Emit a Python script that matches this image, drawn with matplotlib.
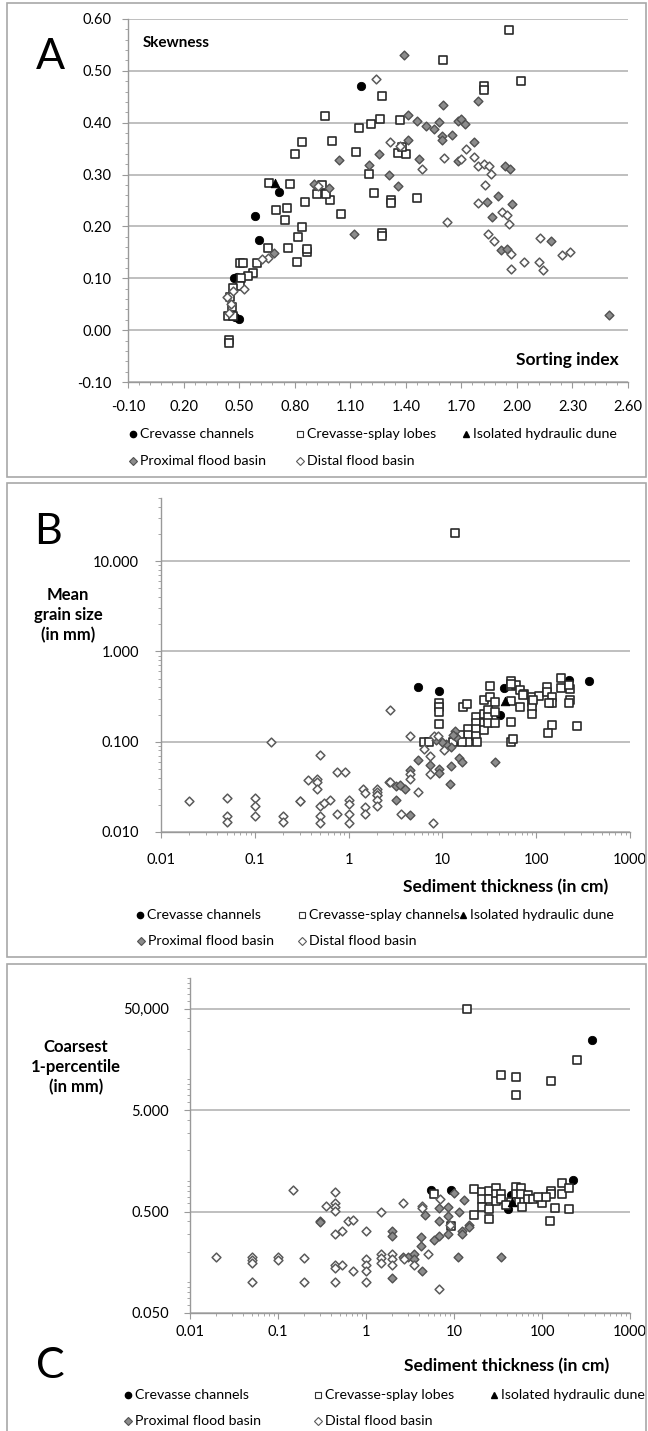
import matplotlib
matplotlib.use("Agg")
import matplotlib.pyplot as plt
from matplotlib.patches import Rectangle
from matplotlib.lines import Line2D
from matplotlib.ticker import FixedLocator, FixedFormatter, LogLocator, NullFormatter

plt.rcParams['font.family'] = ['Lato', 'DejaVu Sans']

W, H = 648, 1431

# =============================================================================
# Data - panel A (skewness vs sorting index)
# =============================================================================
a_chan_x = [1.16, 0.585, 0.61, 0.715, 0.47, 0.49, 0.48, 0.50]
a_chan_y = [0.470, 0.221, 0.174, 0.266, 0.101, 0.102, 0.025, 0.022]

a_lobe_x = [1.96, 1.60, 2.02, 1.82, 1.82, 1.27, 0.965, 1.15, 1.21, 1.26, 1.37, 0.84, 0.80, 1.00,
            1.13, 1.36, 1.40, 1.38, 1.20, 1.23, 1.32, 1.32, 1.46, 1.27, 1.27, 1.05, 0.99, 0.97,
            0.92, 0.95, 0.855, 0.774, 0.66, 0.70, 0.756, 0.747, 0.841, 0.82, 0.765, 0.868, 0.868,
            0.81, 0.657, 0.598, 0.576, 0.55, 0.51, 0.504, 0.52, 0.504, 0.468, 0.45, 0.46, 0.441,
            0.468, 0.445, 0.445]
a_lobe_y = [0.578, 0.520, 0.480, 0.470, 0.464, 0.452, 0.412, 0.389, 0.398, 0.407, 0.405, 0.363,
            0.339, 0.364, 0.343, 0.341, 0.339, 0.354, 0.301, 0.265, 0.250, 0.245, 0.255, 0.188,
            0.182, 0.224, 0.251, 0.263, 0.263, 0.279, 0.248, 0.281, 0.283, 0.232, 0.235, 0.212,
            0.199, 0.180, 0.159, 0.150, 0.156, 0.132, 0.159, 0.129, 0.111, 0.104, 0.100, 0.130,
            0.130, 0.085, 0.081, 0.063, 0.045, 0.027, 0.027, -0.019, -0.024]

a_dune_x = [0.695]
a_dune_y = [0.283]

a_prox_x = [1.39, 1.60, 1.79, 1.41, 1.46, 1.51, 1.55, 1.58, 1.68, 1.70, 1.72, 1.595, 1.595, 1.65,
            1.41, 1.77, 1.04, 1.256, 1.204, 1.307, 1.36, 1.473, 1.68, 1.118, 0.904, 0.987, 0.69,
            1.937, 1.962, 1.897, 1.84, 1.863, 1.973, 1.912, 1.944, 2.182, 2.50]
a_prox_y = [0.531, 0.434, 0.441, 0.414, 0.403, 0.394, 0.388, 0.401, 0.403, 0.407, 0.397, 0.375,
            0.366, 0.377, 0.367, 0.362, 0.328, 0.339, 0.319, 0.300, 0.277, 0.330, 0.327, 0.185,
            0.281, 0.275, 0.148, 0.317, 0.311, 0.259, 0.248, 0.219, 0.243, 0.155, 0.157, 0.172,
            0.030]

a_dist_x = [1.237, 1.314, 1.37, 1.489, 1.606, 1.70, 1.725, 1.77, 1.79, 1.82, 1.85, 1.86, 1.83,
            1.791, 1.921, 1.944, 1.958, 1.624, 1.846, 1.876, 1.966, 1.97, 2.039, 2.117, 2.14,
            2.124, 2.244, 2.286, 0.927, 0.657, 0.621, 0.525, 0.465, 0.436, 0.447, 0.455]
a_dist_y = [0.484, 0.362, 0.356, 0.311, 0.332, 0.330, 0.350, 0.334, 0.316, 0.320, 0.316, 0.301,
            0.280, 0.245, 0.227, 0.223, 0.205, 0.208, 0.185, 0.171, 0.147, 0.117, 0.132, 0.132,
            0.116, 0.177, 0.144, 0.151, 0.277, 0.140, 0.137, 0.080, 0.075, 0.063, 0.034, 0.050]

a_xticks = [-0.10, 0.20, 0.50, 0.80, 1.10, 1.40, 1.70, 2.00, 2.30, 2.60]
a_yticks = [-0.10, 0.00, 0.10, 0.20, 0.30, 0.40, 0.50, 0.60]

# =============================================================================
# Data - panel B (mean grain size vs sediment thickness)
# =============================================================================
b_chan_x = [5.5, 9.2, 45, 41, 225, 370]
b_chan_y = [0.40, 0.36, 0.39, 0.196, 0.48, 0.47]

b_splay_x = [13.7, 9.2, 9.2, 9.2, 9.2, 16.4, 18.4, 6.3, 7.2, 32, 27.5, 32, 36, 54, 54, 61.5, 66.5,
             75, 72, 91, 91, 91, 91, 108, 130, 130, 148, 148, 182, 182, 230, 230, 54, 54, 56, 66.5,
             54, 148, 135, 272, 18.9, 18.9, 18.9, 23, 23, 23, 23, 23.5, 27.5, 27.5, 27.5, 31, 31,
             31, 36.6, 36.6, 15.3, 16, 13, 222, 222, 93, 137, 54]
b_splay_y = [20.6, 0.27, 0.245, 0.216, 0.158, 0.245, 0.26, 0.10, 0.10, 0.41, 0.29, 0.31, 0.275,
             0.47, 0.41, 0.42, 0.37, 0.34, 0.33, 0.31, 0.275, 0.245, 0.205, 0.32, 0.40, 0.355,
             0.31, 0.27, 0.51, 0.39, 0.385, 0.29, 0.164, 0.10, 0.107, 0.245, 0.28, 0.155, 0.125,
             0.15, 0.14, 0.118, 0.098, 0.188, 0.16, 0.14, 0.117, 0.098, 0.205, 0.16, 0.135, 0.225,
             0.188, 0.16, 0.213, 0.16, 0.12, 0.10, 0.098, 0.43, 0.27, 0.29, 0.27, 0.44]

b_dune_x = [46]
b_dune_y = [0.28]

b_prox_x = [0.3, 3.2, 3.2, 3.5, 4.5, 4.5, 5.5, 7.3, 9.1, 9.1, 12, 12.2, 12.4, 13.5, 13.5, 14, 15,
            16, 36, 11, 10, 13, 8.5, 2.7, 4.0]
b_prox_y = [0.022, 0.0224, 0.032, 0.033, 0.0155, 0.049, 0.062, 0.055, 0.05, 0.045, 0.034, 0.054,
            0.087, 0.115, 0.13, 0.114, 0.066, 0.06, 0.059, 0.095, 0.1, 0.12, 0.105, 0.036, 0.030]

b_dist_x = [0.02, 0.05, 0.05, 0.05, 0.1, 0.1, 0.1, 0.15, 0.2, 0.2, 0.3, 0.37, 0.46, 0.46, 0.46,
            0.5, 0.5, 0.5, 0.5, 0.55, 0.64, 0.75, 0.75, 0.91, 1, 1, 1, 1, 1.44, 1.5, 1.5, 1.5, 2,
            2, 2, 2, 2, 2, 2.73, 2.73, 3.6, 4.5, 4.5, 4.5, 5.5, 6.3, 7.3, 7.3, 8, 8.1, 9, 10.4]
b_dist_y = [0.022, 0.024, 0.015, 0.013, 0.024, 0.0195, 0.015, 0.098, 0.015, 0.013, 0.022, 0.038,
            0.039, 0.036, 0.030, 0.0195, 0.015, 0.0127, 0.072, 0.021, 0.0225, 0.046, 0.0158,
            0.046, 0.0224, 0.0205, 0.0158, 0.0127, 0.030, 0.027, 0.019, 0.016, 0.030, 0.028,
            0.026, 0.0254, 0.0224, 0.0195, 0.227, 0.036, 0.016, 0.117, 0.044, 0.039, 0.028,
            0.082, 0.07, 0.044, 0.0127, 0.115, 0.115, 0.08]

# =============================================================================
# Data - panel C (coarsest 1-percentile vs sediment thickness)
# =============================================================================
c_chan_x = [5.5, 9.2, 45, 41, 225, 370]
c_chan_y = [0.81, 0.81, 0.72, 0.53, 1.03, 24.5]

c_lobe_x = [14, 250, 34, 51, 51, 125, 6, 9.2, 17, 17, 21, 21, 21, 25, 25, 25, 25, 30, 30, 30, 34,
            34, 51, 51, 51, 57, 57, 69, 69, 80, 101, 123, 126, 126, 140, 167, 167, 204, 204, 44,
            39, 110, 90, 60]
c_lobe_y = [49, 15.6, 11.1, 10.7, 7.0, 9.6, 0.74, 0.36, 0.83, 0.46, 0.77, 0.66, 0.56, 0.80, 0.66,
            0.53, 0.42, 0.86, 0.74, 0.63, 0.74, 0.66, 0.88, 0.74, 0.62, 0.86, 0.74, 0.73, 0.66,
            0.66, 0.60, 0.40, 0.80, 0.74, 0.54, 0.95, 0.74, 0.86, 0.53, 0.62, 0.58, 0.70, 0.70,
            0.55]

c_dune_x = [46]
c_dune_y = [0.62]

c_prox_x = [0.3, 0.3, 2, 2, 2, 4.7, 6.8, 6.8, 8.5, 8.5, 10, 12.3, 12.3, 8.5, 6.8, 6, 4.2, 4.2,
            3.5, 2.6, 3.0, 4.3, 11, 34, 12.9, 11.3, 15, 15, 3.5]
c_prox_y = [0.40, 0.39, 0.11, 0.32, 0.29, 0.46, 0.54, 0.40, 0.55, 0.45, 0.76, 0.32, 0.30, 0.30,
            0.29, 0.26, 0.28, 0.23, 0.19, 0.18, 0.18, 0.13, 0.18, 0.18, 0.65, 0.50, 0.37, 0.35,
            0.17]

c_dist_x = [0.02, 0.05, 0.05, 0.05, 0.05, 0.1, 0.1, 0.15, 0.2, 0.2, 0.35, 0.45, 0.45, 0.45, 0.45,
            0.45, 0.45, 0.45, 0.45, 0.53, 0.53, 0.62, 0.71, 0.71, 1, 1, 1, 1, 1, 1.5, 1.5, 1.5,
            1.5, 2, 2, 2, 2.6, 2.7, 3.5, 4.3, 4.3, 5, 6.8, 7, 8.9]
c_dist_y = [0.178, 0.18, 0.165, 0.157, 0.10, 0.18, 0.165, 0.81, 0.175, 0.10, 0.57, 0.77, 0.61,
            0.56, 0.51, 0.30, 0.15, 0.14, 0.10, 0.32, 0.15, 0.40, 0.41, 0.13, 0.32, 0.17, 0.15,
            0.13, 0.10, 0.50, 0.19, 0.175, 0.157, 0.19, 0.17, 0.15, 0.60, 0.17, 0.15, 0.57, 0.54,
            0.19, 0.087, 0.66, 0.37]

thick_ticks = [0.01, 0.1, 1, 10, 100, 1000]
thick_labels = ['0.01', '0.1', '1', '10', '100', '1000']
b_yticks = [0.01, 0.1, 1, 10]
b_ylabels = ['0.010', '0.100', '1.000', '10.000']
c_yticks = [0.05, 0.5, 5, 50]
c_ylabels = ['0.050', '0.500', '5.000', '50,000']

# =============================================================================
# Styles
# =============================================================================
GRID = '#b4b4b4'
AXIS = '#999999'
STY_CHAN = dict(marker='o', s=36, facecolor='black', edgecolor='black', linewidths=0.6)
STY_LOBE = dict(marker='s', s=36, facecolor='white', edgecolor='#2a2a2a', linewidths=1.2)
STY_DUNE = dict(marker='^', s=38, facecolor='black', edgecolor='black', linewidths=0.6)
STY_PROX = dict(marker='D', s=20, facecolor='#8c8c8c', edgecolor='#505050', linewidths=1.0)
STY_DIST = dict(marker='D', s=20, facecolor='white', edgecolor='#5a5a5a', linewidths=1.1)
LEG_SIZE = 10.2

fig = plt.figure(figsize=(W / 100, H / 100), dpi=100)


def fx(px):
    return px / W


def fy(py):
    return 1 - py / H


def make_axes(left, top, right, bottom):
    ax = fig.add_axes([fx(left), fy(bottom), (right - left) / W, (bottom - top) / H])
    for side in ['top', 'right']:
        ax.spines[side].set_visible(False)
    for side in ['left', 'bottom']:
        ax.spines[side].set_color(AXIS)
        ax.spines[side].set_linewidth(1.0)
    ax.set_axisbelow(True)
    ax.yaxis.grid(True, color=GRID, linewidth=1.2)
    ax.tick_params(which='both', colors=AXIS, labelcolor='black', labelsize=10.5)
    ax.tick_params(which='major', length=4)
    ax.tick_params(which='minor', length=2.5)
    return ax


def panel_box(top, bottom):
    fig.add_artist(Rectangle((fx(7), fy(bottom)), fx(639), (bottom - top) / H,
                             transform=fig.transFigure, fill=False,
                             edgecolor='#a8a8a8', linewidth=1.2))


def legend_item(px, py, style, text):
    m = {'o': dict(marker='o', markersize=4.5, mfc='black', mec='black'),
         's': dict(marker='s', markersize=4.8, mfc='white', mec='#333333', mew=0.8),
         '^': dict(marker='^', markersize=4.8, mfc='black', mec='black'),
         'p': dict(marker='D', markersize=3.6, mfc='#8c8c8c', mec='#505050', mew=0.8),
         'd': dict(marker='D', markersize=3.6, mfc='white', mec='#5a5a5a', mew=0.8)}[style]
    fig.add_artist(Line2D([fx(px)], [fy(py)], transform=fig.transFigure, linestyle='none', **m))
    fig.text(fx(px + 7), fy(py), text, fontsize=LEG_SIZE, va='center', ha='left')


def draw_series(ax, series):
    for xs, ys, sty in series:
        ax.scatter(xs, ys, zorder=3, **sty)


# =============================================================================
# Panel A
# =============================================================================
panel_box(3, 477)
axA = make_axes(128, 19, 628, 382)
draw_series(axA, [(a_chan_x, a_chan_y, STY_CHAN), (a_lobe_x, a_lobe_y, STY_LOBE),
                  (a_dune_x, a_dune_y, STY_DUNE), (a_prox_x, a_prox_y, STY_PROX),
                  (a_dist_x, a_dist_y, STY_DIST)])
axA.set_xlim(-0.1, 2.6)
axA.set_ylim(-0.1, 0.6)
axA.xaxis.set_major_locator(FixedLocator(a_xticks))
axA.xaxis.set_major_formatter(FixedFormatter(['%.2f' % v for v in a_xticks]))
axA.xaxis.set_minor_locator(FixedLocator([a_xticks[0] + 0.06 * i for i in range(46)]))
axA.yaxis.set_major_locator(FixedLocator(a_yticks))
axA.yaxis.set_major_formatter(FixedFormatter(['%.2f' % v for v in a_yticks]))
axA.yaxis.set_minor_locator(FixedLocator([-0.1 + 0.02 * i for i in range(36)]))
axA.tick_params(axis='x', pad=9)
axA.tick_params(axis='y', pad=8)
fig.text(fx(50), fy(57), 'A', fontsize=31, ha='center', va='center')
fig.text(fx(143), fy(43), 'Skewness', fontsize=11, fontweight='bold', ha='left', va='center')
fig.text(fx(619), fy(360), 'Sorting index', fontsize=12.5, fontweight='bold',
         ha='right', va='center')
legend_item(133, 434, 'o', 'Crevasse channels')
legend_item(300, 434, 's', 'Crevasse-splay lobes')
legend_item(466, 434, '^', 'Isolated hydraulic dune')
legend_item(133, 461, 'p', 'Proximal flood basin')
legend_item(300, 461, 'd', 'Distal flood basin')

# =============================================================================
# Panel B
# =============================================================================
panel_box(483, 957)
axB = make_axes(161, 498, 630, 832)
draw_series(axB, [(b_chan_x, b_chan_y, STY_CHAN), (b_splay_x, b_splay_y, STY_LOBE),
                  (b_dune_x, b_dune_y, STY_DUNE), (b_prox_x, b_prox_y, STY_PROX),
                  (b_dist_x, b_dist_y, STY_DIST)])
axB.set_xscale('log')
axB.set_yscale('log')
axB.set_xlim(0.01, 1000)
axB.set_ylim(0.01, 50)
axB.xaxis.set_major_locator(FixedLocator(thick_ticks))
axB.xaxis.set_major_formatter(FixedFormatter(thick_labels))
axB.xaxis.set_minor_locator(LogLocator(base=10, subs=range(2, 10)))
axB.xaxis.set_minor_formatter(NullFormatter())
axB.yaxis.set_major_locator(FixedLocator(b_yticks))
axB.yaxis.set_major_formatter(FixedFormatter(b_ylabels))
axB.yaxis.set_minor_locator(LogLocator(base=10, subs=range(2, 10)))
axB.yaxis.set_minor_formatter(NullFormatter())
axB.tick_params(axis='x', pad=11)
axB.tick_params(axis='y', pad=12)
fig.text(fx(48), fy(532), 'B', fontsize=31, ha='center', va='center')
fig.text(fx(68), fy(615), 'Mean\ngrain size\n(in mm)', fontsize=12, fontweight='bold',
         ha='center', va='center', linespacing=1.3)
fig.text(fx(608), fy(887), 'Sediment thickness (in cm)', fontsize=12.5, fontweight='bold',
         ha='right', va='center')
legend_item(140, 915, 'o', 'Crevasse channels')
legend_item(302, 915, 's', 'Crevasse-splay channels')
legend_item(463, 915, '^', 'Isolated hydraulic dune')
legend_item(141, 941, 'p', 'Proximal flood basin')
legend_item(302, 941, 'd', 'Distal flood basin')

# =============================================================================
# Panel C
# =============================================================================
panel_box(964, 1440)
axC = make_axes(190, 978, 630, 1313)
draw_series(axC, [(c_chan_x, c_chan_y, STY_CHAN), (c_lobe_x, c_lobe_y, STY_LOBE),
                  (c_dune_x, c_dune_y, STY_DUNE), (c_prox_x, c_prox_y, STY_PROX),
                  (c_dist_x, c_dist_y, STY_DIST)])
axC.set_xscale('log')
axC.set_yscale('log')
axC.set_xlim(0.01, 1000)
axC.set_ylim(0.05, 100)
axC.xaxis.set_major_locator(FixedLocator(thick_ticks))
axC.xaxis.set_major_formatter(FixedFormatter(thick_labels))
axC.xaxis.set_minor_locator(LogLocator(base=10, subs=range(2, 10)))
axC.xaxis.set_minor_formatter(NullFormatter())
axC.yaxis.set_major_locator(FixedLocator(c_yticks))
axC.yaxis.set_major_formatter(FixedFormatter(c_ylabels))
axC.yaxis.set_minor_locator(LogLocator(base=10, subs=range(1, 10)))
axC.yaxis.set_minor_formatter(NullFormatter())
axC.tick_params(axis='x', pad=5)
axC.tick_params(axis='y', pad=11)
fig.text(fx(50), fy(1366), 'C', fontsize=31, ha='center', va='center')
fig.text(fx(76), fy(1067), 'Coarsest\n1-percentile\n(in mm)', fontsize=12, fontweight='bold',
         ha='center', va='center', linespacing=1.3)
fig.text(fx(609), fy(1366), 'Sediment thickness (in cm)', fontsize=12.5, fontweight='bold',
         ha='right', va='center')
legend_item(128, 1395, 'o', 'Crevasse channels')
legend_item(318, 1395, 's', 'Crevasse-splay lobes')
legend_item(494, 1395, '^', 'Isolated hydraulic dune')
legend_item(128, 1421, 'p', 'Proximal flood basin')
legend_item(318, 1421, 'd', 'Distal flood basin')

fig.savefig('out.png', dpi=100, facecolor='white')
